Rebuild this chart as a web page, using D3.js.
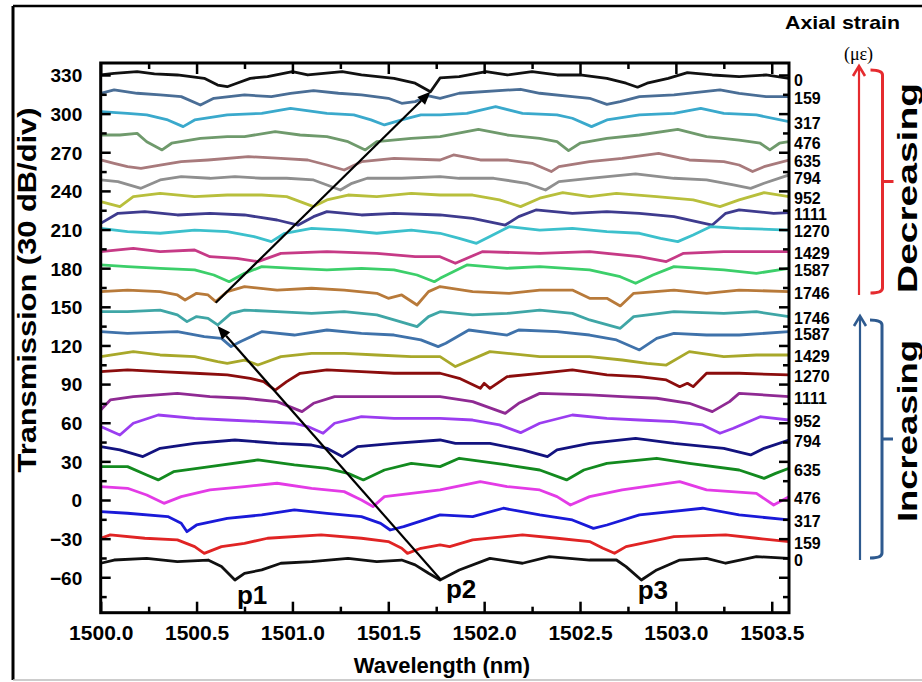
<!DOCTYPE html>
<html>
<head>
<meta charset="utf-8">
<script src="https://cdn.jsdelivr.net/npm/d3@7"></script>
<style>
  html, body { margin: 0; padding: 0; background: #fff; }
  svg { display: block; }
  text { font-family: "Liberation Sans", Arial, sans-serif; font-weight: bold; fill: #000; }
</style>
</head>
<body>
<svg id="chart" width="922" height="682"></svg>
<script>
// Transmission spectra of the interferometer under axial strain.
// Every trace is stacked with its own offset; points are [wavelength (nm), transmission (dB, offset)].

// Decreasing strain (upper group, 0 at the top)
const dec0 = [[1500.00,330],[1500.07,331.3],[1500.19,332.6],[1500.28,330.8],[1500.40,330],[1500.54,327.4],[1500.61,322.2],[1500.66,320.9],[1500.71,323.6],[1500.78,327.4],[1500.87,328.7],[1501.00,332.6],[1501.08,330],[1501.26,332.6],[1501.36,330],[1501.53,327.4],[1501.64,323.6],[1501.72,317],[1501.77,327.7],[1501.87,328.7],[1502.01,332.6],[1502.12,330],[1502.25,332.6],[1502.38,330],[1502.50,330],[1502.64,327.4],[1502.74,323.6],[1502.80,320.5],[1502.85,323.6],[1502.96,327.4],[1503.06,331.8],[1503.19,330],[1503.33,328.7],[1503.47,330],[1503.59,327.4]];
const dec159 = [[1500.00,315.8],[1500.07,318.4],[1500.19,315.8],[1500.31,314.5],[1500.42,313.2],[1500.52,306.7],[1500.59,311.9],[1500.75,314.5],[1500.89,313.2],[1500.99,315.8],[1501.11,317.8],[1501.24,315.8],[1501.36,314.5],[1501.50,311.9],[1501.57,308.0],[1501.64,309.3],[1501.71,313.7],[1501.77,311.9],[1501.87,315.8],[1502.19,318.9],[1502.29,315.8],[1502.46,313.2],[1502.55,311.9],[1502.64,307.2],[1502.71,309.3],[1502.81,313.2],[1502.99,314.5],[1503.23,318.4],[1503.33,315.8],[1503.47,313.2],[1503.59,313.2]];
const dec317 = [[1500.00,301.5],[1500.14,300.2],[1500.24,299.0],[1500.35,295.1],[1500.43,289.9],[1500.49,295.1],[1500.66,299.0],[1500.84,300.2],[1500.99,304.1],[1501.18,300.2],[1501.32,299.0],[1501.41,295.1],[1501.48,291.2],[1501.57,295.1],[1501.67,299.0],[1501.77,299.0],[1501.91,300.2],[1502.06,305.4],[1502.20,300.2],[1502.38,299.0],[1502.46,296.4],[1502.56,289.9],[1502.64,295.1],[1502.81,299.0],[1502.99,300.2],[1503.13,304.1],[1503.25,300.2],[1503.42,299.0],[1503.59,293.8]];
const dec476 = [[1500.00,283.4],[1500.10,283.4],[1500.19,284.7],[1500.24,278.2],[1500.32,271.8],[1500.37,277.0],[1500.52,280.8],[1500.66,282.1],[1500.75,282.1],[1500.91,286.0],[1501.04,283.4],[1501.18,282.1],[1501.29,278.2],[1501.38,271.8],[1501.44,278.2],[1501.62,280.8],[1501.77,282.1],[1501.97,287.8],[1502.12,283.4],[1502.29,280.8],[1502.38,278.2],[1502.44,271.3],[1502.50,277.0],[1502.64,280.8],[1502.81,283.4],[1503.01,287.8],[1503.16,282.1],[1503.33,279.5],[1503.44,277.0],[1503.49,271.8],[1503.54,277.0],[1503.59,278.2]];
const dec635 = [[1500.00,264.0],[1500.07,261.4],[1500.14,258.8],[1500.21,257.5],[1500.31,260.1],[1500.42,262.7],[1500.56,264.0],[1500.77,266.6],[1500.94,265.3],[1501.08,264.0],[1501.18,260.1],[1501.27,256.2],[1501.36,262.7],[1501.53,265.3],[1501.77,264.0],[1501.84,267.9],[1501.98,264.0],[1502.12,264.0],[1502.25,261.4],[1502.35,255.0],[1502.39,258.8],[1502.55,262.7],[1502.72,265.3],[1502.91,269.2],[1503.07,264.0],[1503.25,262.7],[1503.33,260.1],[1503.40,255.0],[1503.46,258.8],[1503.59,264.0]];
const dec794 = [[1500.00,248.5],[1500.09,247.2],[1500.21,242.0],[1500.31,248.5],[1500.42,251.1],[1500.57,249.8],[1500.70,251.1],[1500.84,249.8],[1500.97,249.8],[1501.11,248.5],[1501.18,244.6],[1501.25,240.7],[1501.31,245.9],[1501.39,249.8],[1501.57,249.8],[1501.77,251.1],[1501.87,249.8],[1502.05,249.8],[1502.22,245.9],[1502.32,240.7],[1502.39,247.2],[1502.55,249.8],[1502.79,253.2],[1502.99,249.8],[1503.16,248.5],[1503.30,244.6],[1503.39,242.0],[1503.46,245.9],[1503.59,252.4]];
const dec952 = [[1500.00,231.7],[1500.10,227.8],[1500.17,235.5],[1500.31,238.1],[1500.49,235.5],[1500.66,236.8],[1500.84,236.8],[1500.97,235.5],[1501.04,231.7],[1501.11,227.8],[1501.18,233.0],[1501.29,236.8],[1501.44,235.5],[1501.62,238.1],[1501.77,236.8],[1501.94,236.8],[1502.08,233.0],[1502.19,227.8],[1502.29,234.3],[1502.41,238.6],[1502.55,235.5],[1502.69,238.1],[1502.90,235.5],[1503.09,233.0],[1503.23,227.8],[1503.33,233.0],[1503.46,238.6],[1503.59,235.5]];
const dec1111 = [[1500.00,214.8],[1500.09,222.6],[1500.23,223.9],[1500.40,221.3],[1500.57,222.6],[1500.75,221.3],[1500.92,217.4],[1501.03,213.5],[1501.11,220.0],[1501.18,223.9],[1501.36,221.3],[1501.53,222.6],[1501.77,221.3],[1501.94,218.7],[1502.11,213.5],[1502.18,220.0],[1502.27,225.2],[1502.46,222.6],[1502.64,223.9],[1502.81,222.6],[1502.99,220.0],[1503.19,213.5],[1503.26,222.6],[1503.33,225.2],[1503.51,222.6],[1503.59,223.1]];
const dec1270 = [[1500.00,210.9],[1500.14,208.4],[1500.31,207.1],[1500.49,209.6],[1500.66,208.4],[1500.80,204.5],[1500.89,200.6],[1500.96,207.1],[1501.10,210.9],[1501.27,209.6],[1501.44,207.1],[1501.62,209.6],[1501.77,207.1],[1501.87,203.2],[1501.96,199.3],[1502.03,204.5],[1502.13,212.2],[1502.29,209.6],[1502.46,210.9],[1502.64,208.4],[1502.81,207.1],[1502.92,203.2],[1503.01,200.6],[1503.09,205.8],[1503.18,212.2],[1503.33,210.9],[1503.59,209.6]];
const dec1429 = [[1500.00,192.8],[1500.17,195.4],[1500.31,192.8],[1500.49,194.1],[1500.57,188.9],[1500.71,187.6],[1500.82,185.1],[1500.94,191.5],[1501.18,192.8],[1501.44,191.5],[1501.64,188.9],[1501.77,188.9],[1501.85,183.8],[1501.99,192.8],[1502.29,191.5],[1502.55,192.8],[1502.81,188.9],[1502.95,185.1],[1503.04,191.5],[1503.25,192.8],[1503.59,192.8]];
const dec1587 = [[1500.00,182.5],[1500.14,181.2],[1500.31,179.9],[1500.49,178.6],[1500.59,174.7],[1500.67,169.5],[1500.75,176.0],[1500.84,181.2],[1501.01,179.9],[1501.18,178.6],[1501.36,179.9],[1501.53,178.6],[1501.65,174.7],[1501.74,169.5],[1501.77,172.1],[1501.91,182.5],[1502.12,179.9],[1502.29,181.2],[1502.55,178.6],[1502.71,173.4],[1502.79,168.3],[1502.88,174.7],[1502.99,181.2],[1503.25,178.6],[1503.42,176.0],[1503.59,179.9]];
const dec1746 = [[1500.00,161.8],[1500.14,163.0],[1500.31,161.8],[1500.40,159.2],[1500.44,155.3],[1500.50,160.5],[1500.56,159.2],[1500.60,154.0],[1500.66,161.8],[1500.75,165.7],[1500.92,163.0],[1501.10,164.4],[1501.27,163.0],[1501.44,160.5],[1501.50,156.6],[1501.57,159.2],[1501.65,151.4],[1501.71,161.8],[1501.77,165.7],[1501.94,161.8],[1502.13,160.5],[1502.29,163.0],[1502.46,163.0],[1502.55,156.6],[1502.64,156.6],[1502.71,150.7],[1502.78,160.5],[1502.99,163.0],[1503.16,160.5],[1503.33,163.0],[1503.59,161.8]];

// Increasing strain (lower group, 0 at the bottom)
const inc1746 = [[1500.00,146.2],[1500.14,146.2],[1500.31,147.5],[1500.40,143.7],[1500.45,138.5],[1500.50,142.4],[1500.56,141.1],[1500.61,135.9],[1500.68,144.9],[1500.75,147.5],[1500.92,146.2],[1501.10,144.9],[1501.27,146.2],[1501.44,143.7],[1501.53,139.8],[1501.65,134.6],[1501.71,142.4],[1501.77,146.2],[1501.94,143.7],[1502.12,144.9],[1502.29,147.5],[1502.46,144.9],[1502.55,139.8],[1502.71,133.3],[1502.78,142.4],[1502.99,146.2],[1503.25,144.9],[1503.42,146.2],[1503.59,142.4]];
const inc1587 = [[1500.00,130.7],[1500.14,129.4],[1500.40,130.7],[1500.54,126.8],[1500.63,125.5],[1500.68,119.1],[1500.73,123.0],[1500.84,130.7],[1501.01,128.1],[1501.18,132.0],[1501.36,129.4],[1501.53,128.1],[1501.67,124.3],[1501.76,119.1],[1501.80,121.7],[1501.92,132.0],[1502.12,128.1],[1502.18,132.0],[1502.38,130.7],[1502.55,128.1],[1502.69,124.3],[1502.81,116.5],[1502.90,125.5],[1502.99,129.4],[1503.16,128.1],[1503.33,128.1],[1503.59,130.7]];
const inc1429 = [[1500.00,111.3],[1500.17,115.2],[1500.31,112.6],[1500.49,111.3],[1500.61,107.4],[1500.66,106.1],[1500.75,108.7],[1500.82,104.8],[1500.94,111.3],[1501.10,113.9],[1501.27,113.9],[1501.44,112.6],[1501.62,111.3],[1501.77,111.3],[1501.85,103.6],[1502.03,115.2],[1502.29,111.3],[1502.55,111.3],[1502.72,108.7],[1502.85,106.1],[1502.95,104.8],[1503.07,115.2],[1503.25,111.3],[1503.42,112.6],[1503.59,112.6]];
const inc1270 = [[1500.00,99.7],[1500.14,101.0],[1500.31,99.7],[1500.49,98.4],[1500.66,97.1],[1500.78,94.5],[1500.85,91.9],[1500.91,85.4],[1500.97,91.9],[1501.04,98.4],[1501.18,101.0],[1501.36,99.7],[1501.53,98.4],[1501.77,98.4],[1501.87,94.5],[1501.98,86.7],[1502.00,90.6],[1502.03,86.7],[1502.12,95.8],[1502.29,98.4],[1502.46,101.0],[1502.64,97.1],[1502.81,95.8],[1502.95,93.2],[1503.02,88.0],[1503.06,90.6],[1503.09,88.0],[1503.16,98.4],[1503.33,98.4],[1503.59,97.1]];
const inc1111 = [[1500.00,69.9],[1500.05,77.7],[1500.17,80.3],[1500.40,82.8],[1500.57,80.3],[1500.75,79.0],[1500.92,76.4],[1501.05,68.6],[1501.11,75.1],[1501.22,80.3],[1501.44,80.3],[1501.62,80.3],[1501.77,80.3],[1501.94,76.4],[1502.11,67.3],[1502.18,75.1],[1502.29,82.8],[1502.55,81.6],[1502.72,80.3],[1502.90,79.0],[1503.07,75.1],[1503.19,68.6],[1503.28,76.4],[1503.33,82.8],[1503.59,80.3]];
const inc952 = [[1500.00,57.0],[1500.10,50.5],[1500.17,59.6],[1500.30,66.0],[1500.49,63.4],[1500.66,62.1],[1500.84,60.9],[1501.01,59.6],[1501.08,57.0],[1501.16,51.8],[1501.22,59.6],[1501.36,64.7],[1501.53,63.4],[1501.77,63.4],[1501.94,62.1],[1502.08,58.3],[1502.19,52.3],[1502.29,59.6],[1502.46,66.0],[1502.64,63.4],[1502.81,62.1],[1502.99,60.9],[1503.14,58.3],[1503.23,51.8],[1503.30,55.7],[1503.44,64.7],[1503.59,62.1]];
const inc794 = [[1500.00,41.4],[1500.10,38.9],[1500.22,33.7],[1500.31,40.1],[1500.49,44.0],[1500.70,46.6],[1500.92,44.0],[1501.10,42.7],[1501.18,40.1],[1501.26,33.7],[1501.34,41.4],[1501.53,44.0],[1501.77,46.6],[1501.85,44.0],[1502.03,44.0],[1502.20,38.9],[1502.33,33.7],[1502.38,38.9],[1502.55,44.0],[1502.79,47.9],[1502.99,44.0],[1503.25,40.1],[1503.39,35.0],[1503.46,40.1],[1503.59,46.6]];
const inc635 = [[1500.00,25.9],[1500.14,25.9],[1500.24,19.4],[1500.30,15.6],[1500.38,22.0],[1500.57,25.9],[1500.82,31.1],[1501.01,27.2],[1501.18,24.6],[1501.29,20.7],[1501.37,15.6],[1501.48,23.3],[1501.62,28.5],[1501.77,25.9],[1501.87,32.4],[1502.12,27.2],[1502.29,23.3],[1502.43,15.6],[1502.52,23.3],[1502.64,28.5],[1502.90,32.4],[1503.07,28.5],[1503.33,23.3],[1503.46,16.8],[1503.52,20.7],[1503.59,24.6]];
const inc476 = [[1500.00,10.4],[1500.14,9.1],[1500.24,3.9],[1500.33,-2.6],[1500.42,2.6],[1500.57,7.8],[1500.75,10.4],[1500.92,13.0],[1501.10,9.1],[1501.27,6.5],[1501.36,0.0],[1501.42,-5.1],[1501.48,2.6],[1501.62,5.2],[1501.77,7.8],[1501.98,14.3],[1502.12,10.4],[1502.29,7.8],[1502.38,2.6],[1502.45,-3.9],[1502.55,2.6],[1502.72,7.8],[1503.02,14.3],[1503.16,7.8],[1503.42,5.2],[1503.51,-3.9],[1503.59,2.6]];
const inc317 = [[1500.00,-9.0],[1500.14,-10.3],[1500.35,-12.9],[1500.42,-18.1],[1500.45,-24.6],[1500.50,-19.4],[1500.66,-14.2],[1500.84,-11.6],[1501.01,-7.7],[1501.18,-10.3],[1501.36,-12.9],[1501.46,-18.1],[1501.51,-23.3],[1501.58,-20.7],[1501.77,-11.6],[1501.94,-12.9],[1502.10,-6.4],[1502.29,-11.6],[1502.46,-15.5],[1502.57,-22.0],[1502.64,-19.4],[1502.81,-11.6],[1503.14,-6.4],[1503.33,-11.6],[1503.59,-15.5]];
const inc159 = [[1500.00,-29.7],[1500.05,-27.1],[1500.23,-29.7],[1500.40,-31.0],[1500.49,-36.2],[1500.54,-41.4],[1500.63,-36.2],[1500.75,-33.6],[1500.87,-29.7],[1501.15,-27.1],[1501.36,-29.7],[1501.50,-32.3],[1501.57,-37.5],[1501.60,-41.4],[1501.67,-37.5],[1501.77,-34.9],[1501.82,-36.2],[1501.94,-31.0],[1502.20,-27.1],[1502.38,-29.7],[1502.55,-32.3],[1502.62,-37.5],[1502.68,-41.4],[1502.74,-36.2],[1502.99,-28.4],[1503.26,-27.1],[1503.42,-29.7],[1503.59,-32.3]];
const inc0 = [[1500.00,-49.1],[1500.07,-46.6],[1500.24,-45.3],[1500.40,-47.9],[1500.56,-46.6],[1500.63,-51.7],[1500.70,-62.1],[1500.75,-56.9],[1500.84,-54.3],[1500.94,-49.1],[1501.10,-47.9],[1501.29,-45.3],[1501.44,-47.9],[1501.57,-46.6],[1501.64,-50.4],[1501.71,-56.9],[1501.77,-62.1],[1501.87,-54.3],[1502.03,-45.3],[1502.20,-49.1],[1502.34,-44.0],[1502.55,-46.6],[1502.69,-46.6],[1502.74,-51.7],[1502.82,-62.1],[1502.90,-54.3],[1503.02,-46.6],[1503.16,-45.3],[1503.26,-49.1],[1503.42,-44.0],[1503.59,-45.3]];

// Trace order from top to bottom, with the strain (με) written at the right end of each
const traces = [dec0, dec159, dec317, dec476, dec635, dec794, dec952, dec1111, dec1270, dec1429, dec1587, dec1746,
                inc1746, inc1587, inc1429, inc1270, inc1111, inc952, inc794, inc635, inc476, inc317, inc159, inc0];
const strainLabels = ["0","159","317","476","635","794","952","1111","1270","1429","1587","1746",
                      "1746","1587","1429","1270","1111","952","794","635","476","317","159","0"];
const traceColors = ["#111111","#4a6e96","#3aa9cc","#6f9a6c","#a87a7c","#8f8f8f","#b8bf3c","#3e3b8e","#3cc0cc","#c63a86","#3ccf6a","#b87a3a",
                     "#3fa6a6","#3f72aa","#a8a82a","#8b0d0d","#8f2a93","#9b3df0","#13137f","#138a1f","#e33be6","#1a1ad8","#e02424","#111111"];

// Axis ticks
const xTickValues = [1500.0, 1500.5, 1501.0, 1501.5, 1502.0, 1502.5, 1503.0, 1503.5];
const xMinorTicks = [1500.25, 1500.75, 1501.25, 1501.75, 1502.25, 1502.75, 1503.25];
const yTickValues = [-60, -30, 0, 30, 60, 90, 120, 150, 180, 210, 240, 270, 300, 330];
const yMinorTicks = [-75, -45, -15, 15, 45, 75, 105, 135, 165, 195, 225, 255, 285, 315];

// Dip tracking arrows (tail -> head) and dip names
const dipArrows = [
  { from: [1500.60, 153.2], to: [1501.72, 317.0] },
  { from: [1501.775, -62.1], to: [1500.609, 135.1] }
];
const dipNames = [
  { name: "p1", at: [1500.79, -80.7] },
  { name: "p2", at: [1501.88, -76.1] },
  { name: "p3", at: [1502.88, -77.2] }
];

// ---------------------------------------------------------------
const svg = d3.select("#chart");
const plot = { left: 100.7, right: 789, top: 63, bottom: 612.7 };

const x = d3.scaleLinear().domain([1500, 1503.59]).range([plot.left, plot.right]);
const y = d3.scaleLinear().domain([-87.5, 339.3]).range([plot.bottom, plot.top]);

// figure border
svg.append("line").attr("x1", 13).attr("y1", 6).attr("x2", 13).attr("y2", 680)
  .attr("stroke", "#000").attr("stroke-width", 3);
svg.append("line").attr("x1", 13).attr("y1", 6).attr("x2", 922).attr("y2", 6)
  .attr("stroke", "#000").attr("stroke-width", 2.5);
svg.append("line").attr("x1", 13).attr("y1", 680).attr("x2", 922).attr("y2", 680)
  .attr("stroke", "#bdbdbd").attr("stroke-width", 1.5);

svg.append("defs").append("clipPath").attr("id", "plot-clip")
  .append("rect").attr("x", plot.left).attr("y", plot.top)
  .attr("width", plot.right - plot.left).attr("height", plot.bottom - plot.top);

// spectra
const line = d3.line().x(d => x(d[0])).y(d => y(d[1]));
svg.append("g").attr("clip-path", "url(#plot-clip)")
  .selectAll("path").data(traces).join("path")
  .attr("d", line)
  .attr("fill", "none")
  .attr("stroke", (d, i) => traceColors[i])
  .attr("stroke-width", 2.8)
  .attr("stroke-linejoin", "round");

// axes with inward ticks on all four sides
function styleAxis(g) {
  g.select(".domain").remove();
  g.selectAll(".tick line").attr("stroke", "#000").attr("stroke-width", 2.5);
}
const gxB = svg.append("g").attr("transform", `translate(0,${plot.bottom})`)
  .call(d3.axisBottom(x).tickValues(xTickValues).tickSize(-11).tickFormat(d3.format(".1f")))
  .call(styleAxis);
gxB.selectAll("text").attr("y", 27.5).attr("dy", null).attr("font-size", 21);
svg.append("g").attr("transform", `translate(0,${plot.bottom})`)
  .call(d3.axisBottom(x).tickValues(xMinorTicks).tickSize(-6).tickFormat(""))
  .call(styleAxis);
svg.append("g").attr("transform", `translate(0,${plot.top})`)
  .call(d3.axisTop(x).tickValues(xTickValues).tickSize(-11).tickFormat(""))
  .call(styleAxis);
svg.append("g").attr("transform", `translate(0,${plot.top})`)
  .call(d3.axisTop(x).tickValues(xMinorTicks).tickSize(-6).tickFormat(""))
  .call(styleAxis);

const gyL = svg.append("g").attr("transform", `translate(${plot.left},0)`)
  .call(d3.axisLeft(y).tickValues(yTickValues).tickSize(-10).tickPadding(18.5))
  .call(styleAxis);
gyL.selectAll("text").attr("font-size", 19).attr("dy", "0.36em");
svg.append("g").attr("transform", `translate(${plot.left},0)`)
  .call(d3.axisLeft(y).tickValues(yMinorTicks).tickSize(-6).tickFormat(""))
  .call(styleAxis);
svg.append("g").attr("transform", `translate(${plot.right},0)`)
  .call(d3.axisRight(y).tickValues(yTickValues).tickSize(-10).tickFormat(""))
  .call(styleAxis);
svg.append("g").attr("transform", `translate(${plot.right},0)`)
  .call(d3.axisRight(y).tickValues(yMinorTicks).tickSize(-6).tickFormat(""))
  .call(styleAxis);

// plot frame
svg.append("rect").attr("x", plot.left).attr("y", plot.top)
  .attr("width", plot.right - plot.left).attr("height", plot.bottom - plot.top)
  .attr("fill", "none").attr("stroke", "#000").attr("stroke-width", 3);

// axis titles
svg.append("text").attr("x", 442).attr("y", 673).attr("text-anchor", "middle")
  .attr("font-size", 22).text("Wavelength (nm)");
svg.append("text").attr("transform", "translate(36,290) rotate(-90)")
  .attr("text-anchor", "middle").attr("font-size", 25)
  .attr("textLength", 365).attr("lengthAdjust", "spacingAndGlyphs")
  .text("Transmission (30 dB/div)");

// strain value at the end of each trace, nudged apart where traces end close together
const labelGap = 16.5;
const labelY = [];
traces.forEach((t, i) => {
  let cy = y(t[t.length - 1][1]) + 1.5;
  if (i > 0 && cy < labelY[i - 1] + labelGap) cy = labelY[i - 1] + labelGap;
  labelY.push(cy);
});
svg.append("g").selectAll("text").data(traces).join("text")
  .attr("x", 794)
  .attr("y", (d, i) => labelY[i] + 5.8)
  .attr("font-size", 16)
  .text((d, i) => strainLabels[i]);

svg.append("text").attr("x", 842.5).attr("y", 29).attr("text-anchor", "middle")
  .attr("font-size", 19).attr("textLength", 115).attr("lengthAdjust", "spacingAndGlyphs")
  .text("Axial strain");
svg.append("text").attr("x", 858.5).attr("y", 60).attr("text-anchor", "middle")
  .attr("font-size", 18).style("font-family", "'Liberation Serif', 'Times New Roman', serif")
  .style("font-weight", "normal").text("(\u03bc\u03b5)");

// dip tracking arrows
const arrowG = svg.append("g");
dipArrows.forEach(a => {
  const x0 = x(a.from[0]), y0 = y(a.from[1]);
  const x1 = x(a.to[0]), y1 = y(a.to[1]);
  const ang = Math.atan2(y1 - y0, x1 - x0);
  const hl = 13, hw = 5.5;
  const bx = x1 - hl * Math.cos(ang), by = y1 - hl * Math.sin(ang);
  arrowG.append("line").attr("x1", x0).attr("y1", y0).attr("x2", bx).attr("y2", by)
    .attr("stroke", "#000").attr("stroke-width", 2.2);
  const px = -Math.sin(ang) * hw, py = Math.cos(ang) * hw;
  arrowG.append("path")
    .attr("d", `M${x1},${y1}L${bx + px},${by + py}L${bx - px},${by - py}Z`)
    .attr("fill", "#000");
});
svg.append("g").selectAll("text").data(dipNames).join("text")
  .attr("x", d => x(d.at[0])).attr("y", d => y(d.at[1]))
  .attr("text-anchor", "middle").attr("font-size", 26)
  .text(d => d.name);

// direction markers: arrow, bracket and caption for each group
function groupMarker(color, top, bottom, arrowX, brX, caption, capY, capLen) {
  const g = svg.append("g");
  g.append("line").attr("x1", arrowX).attr("y1", top + 2).attr("x2", arrowX).attr("y2", bottom)
    .attr("stroke", color).attr("stroke-width", 2.2);
  g.append("path").attr("d", `M${arrowX - 6},${top + 10}L${arrowX},${top}L${arrowX + 6},${top + 10}`)
    .attr("fill", "none").attr("stroke", color).attr("stroke-width", 2.6);
  const bt = top + 4, bb = bottom - 2, mid = (bt + bb) / 2;
  g.append("path")
    .attr("d", `M${brX - 12},${bt}Q${brX},${bt} ${brX},${bt + 5}L${brX},${bb - 5}Q${brX},${bb} ${brX - 12},${bb}M${brX},${mid}L${brX + 11},${mid}`)
    .attr("fill", "none").attr("stroke", color).attr("stroke-width", 3);
  g.append("text").attr("transform", `translate(917,${capY}) rotate(-90)`)
    .attr("text-anchor", "middle").attr("font-size", 28)
    .attr("textLength", capLen).attr("lengthAdjust", "spacingAndGlyphs")
    .text(caption);
}
groupMarker("#e52b2f", 66, 295, 859, 882.5, "Decreasing", 188, 210);
groupMarker("#2e5a8f", 316, 560, 860, 882, "Increasing", 431, 182);
</script>
</body>
</html>
